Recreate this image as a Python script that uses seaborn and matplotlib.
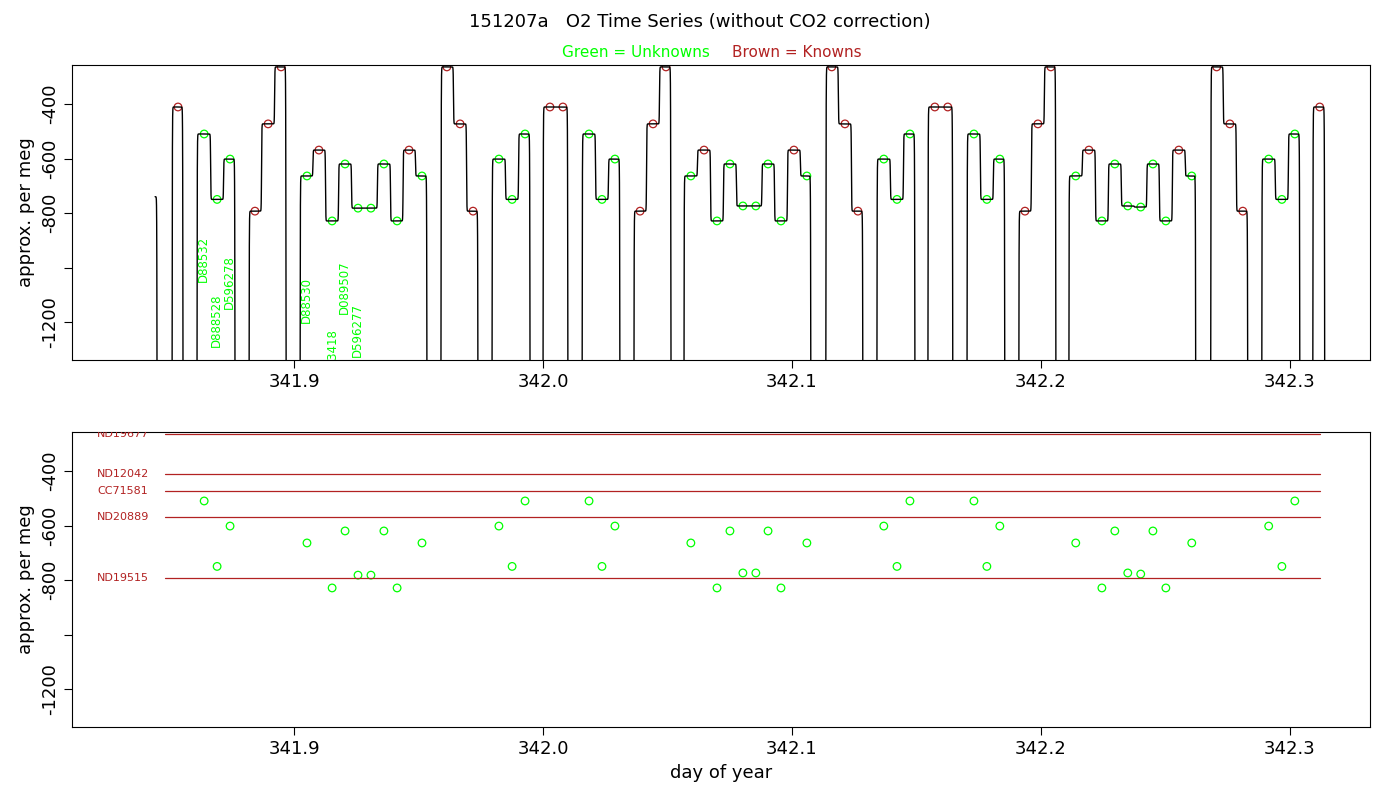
import numpy as np
import pandas as pd
import matplotlib
matplotlib.use("Agg")
import matplotlib.pyplot as plt
import seaborn as sns

BROWN = "#B22222"
GREEN = "#00FF00"

# group rise / end times (day of year)
group_rise = [341.8400, 341.8510, 341.8610, 341.8819, 341.9024, 341.9590, 341.9795, 342.0000, 342.0157,
              342.0365, 342.0566, 342.1136, 342.1341, 342.1546, 342.1703, 342.1911, 342.2112, 342.2682,
              342.2887, 342.3092]
group_end = [341.8450, 341.8554, 341.8763, 341.8968, 341.9534, 341.9739, 341.9948, 342.0100, 342.0309,
             342.0514, 342.1076, 342.1285, 342.1494, 342.1646, 342.1855, 342.2060, 342.2622, 342.2831,
             342.3040, 342.3140]
group_first_level = [-740, -411, -510, -793, -664, -264, -602, -411, -510, -793, -664, -264, -602, -411,
                     -510, -793, -664, -264, -602, -411]

# plateau markers: day, level, group index
mk_day = [341.8534,
          341.8639, 341.8691, 341.8743,
          341.8843, 341.8896, 341.8948,
          341.9052, 341.9100, 341.9153, 341.9205, 341.9257, 341.9309, 341.9361, 341.9414, 341.9462, 341.9514,
          341.9614, 341.9667, 341.9719,
          341.9823, 341.9876, 341.9928,
          342.0028, 342.0080,
          342.0185, 342.0237, 342.0289,
          342.0390, 342.0442, 342.0494,
          342.0594, 342.0647, 342.0699, 342.0751, 342.0803, 342.0855, 342.0904, 342.0956, 342.1008, 342.1060,
          342.1160, 342.1213, 342.1265,
          342.1369, 342.1422, 342.1474,
          342.1574, 342.1626,
          342.1731, 342.1783, 342.1835,
          342.1936, 342.1988, 342.2040,
          342.2140, 342.2193, 342.2245, 342.2297, 342.2349, 342.2401, 342.2450, 342.2502, 342.2554, 342.2606,
          342.2706, 342.2759, 342.2811,
          342.2915, 342.2968, 342.3020,
          342.3120]
mk_level = [-411,
            -510, -750, -602,
            -793, -473, -264,
            -664, -569, -829, -620, -782, -782, -620, -829, -569, -664,
            -264, -473, -793,
            -602, -750, -510,
            -411, -411,
            -510, -750, -602,
            -793, -473, -264,
            -664, -569, -829, -620, -774, -774, -620, -829, -569, -664,
            -264, -473, -793,
            -602, -750, -510,
            -411, -411,
            -510, -750, -602,
            -793, -473, -264,
            -664, -569, -829, -620, -774, -778, -620, -829, -569, -664,
            -264, -473, -793,
            -602, -750, -510,
            -411]
mk_group = [1, 2, 2, 2, 3, 3, 3] + [4] * 10 + [5] * 3 + [6] * 3 + [7] * 2 + [8] * 3 + [9] * 3 + [10] * 10 \
    + [11] * 3 + [12] * 3 + [13] * 2 + [14] * 3 + [15] * 3 + [16] * 10 + [17] * 3 + [18] * 3 + [19]
known_levels = [-264, -411, -473, -569, -793]
mk_kind = ["K" if lv in known_levels else "U" for lv in mk_level]

# sample names shown in the top panel
name_text = ["D88532", "D888528", "D596278", "D88530", "D673418", "D089507", "D596277"]
name_day = [341.8637, 341.8689, 341.8741, 341.9050, 341.9153, 341.9203, 341.9255]
name_bottom = [-1053, -1292, -1152, -1204, -1420, -1171, -1328]

# known reference lines (bottom panel)
ref_names = ["ND19677", "ND12042", "CC71581", "ND20889", "ND19515"]
ref_levels = [-264, -411, -473, -569, -793]
ref_start, ref_stop = 341.848, 342.312

# ---- build trace ----
t = np.linspace(341.8442, 342.3140, 30000)
w = 0.00012
LOW = -2500.0
y = np.full_like(t, LOW)
mk_day_a = np.array(mk_day); mk_lv_a = np.array(mk_level); mk_g_a = np.array(mk_group)
for g, (r, e) in enumerate(zip(group_rise, group_end)):
    sel = mk_g_a == g
    days = mk_day_a[sel]; lvls = mk_lv_a[sel]
    if len(lvls) == 0:
        days = np.array([r]); lvls = np.array([group_first_level[g]])
    bounds = [(days[i] + days[i + 1]) / 2 for i in range(len(days) - 1)]
    seg = np.zeros_like(t)
    seg += (lvls[0] - LOW) * 0.5 * (1 + np.tanh((t - r) / w))
    for b, l0, l1 in zip(bounds, lvls[:-1], lvls[1:]):
        seg += (l1 - l0) * 0.5 * (1 + np.tanh((t - b) / w))
    seg -= (lvls[-1] - LOW) * 0.5 * (1 + np.tanh((t - e) / w))
    y += seg
trace = pd.DataFrame({"day": t, "val": y})

sns.set_style("white", {"text.color": "black", "axes.labelcolor": "black",
                        "xtick.color": "black", "ytick.color": "black"})
fig = plt.figure(figsize=(14, 8), dpi=100)
ax1 = fig.add_axes([0.0514, 0.55, 0.927, 0.36875])
ax2 = fig.add_axes([0.0514, 0.09125, 0.927, 0.36875])
xlim = (341.8108, 342.3321)
ylim = (-1339, -257)

mk = pd.DataFrame({"day": mk_day, "val": mk_level, "kind": mk_kind})
for kind, col in (("K", BROWN), ("U", GREEN)):
    sub = mk[mk.kind == kind]
    sns.scatterplot(data=sub, x="day", y="val", ax=ax1, marker="o", s=30, facecolors="none",
                    edgecolor=col, linewidth=0.9, zorder=1)
sns.lineplot(data=trace, x="day", y="val", ax=ax1, color="black", linewidth=1.0, sort=False,
             estimator=None, zorder=2)
for txt, d, b in zip(name_text, name_day, name_bottom):
    ax1.text(d, b, txt, rotation=90, ha="center", va="bottom", color=GREEN, fontsize=8.5, clip_on=True)

unk = mk[mk.kind == "U"]
for nm, lv in zip(ref_names, ref_levels):
    sns.lineplot(x=[ref_start, ref_stop], y=[lv, lv], ax=ax2, color=BROWN, linewidth=0.9)
    ax2.text(341.8209, lv, nm, color=BROWN, fontsize=8, ha="left", va="center", clip_on=True)
sns.scatterplot(data=unk, x="day", y="val", ax=ax2, marker="o", s=30, facecolors="none",
                edgecolor=GREEN, linewidth=0.9)

for ax in (ax1, ax2):
    ax.set_xlim(*xlim); ax.set_ylim(*ylim)
    ax.set_xticks([341.9, 342.0, 342.1, 342.2, 342.3])
    ax.set_xticklabels(["341.9", "342.0", "342.1", "342.2", "342.3"], fontsize=13)
    ax.set_yticks([-400, -600, -800, -1000, -1200])
    ax.set_yticklabels(["-400", "-600", "-800", "", "-1200"], fontsize=13, rotation=90, va="center")
    ax.tick_params(axis="both", length=6, direction="out", color="black", left=True, bottom=True)
    for s in ax.spines.values():
        s.set_color("black"); s.set_linewidth(0.8)
    ax.set_ylabel("approx. per meg", fontsize=13)
    ax.set_xlabel("")
    if ax.get_legend():
        ax.get_legend().remove()
ax2.set_xlabel("day of year", fontsize=13)

fig.text(0.5, 0.972, "151207a   O2 Time Series (without CO2 correction)", ha="center", va="center", fontsize=13)
fig.text(0.454, 0.934, "Green = Unknowns", ha="center", va="center", fontsize=11, color=GREEN)
fig.text(0.569, 0.934, "Brown = Knowns", ha="center", va="center", fontsize=11, color=BROWN)

fig.savefig("out.png", dpi=100)
